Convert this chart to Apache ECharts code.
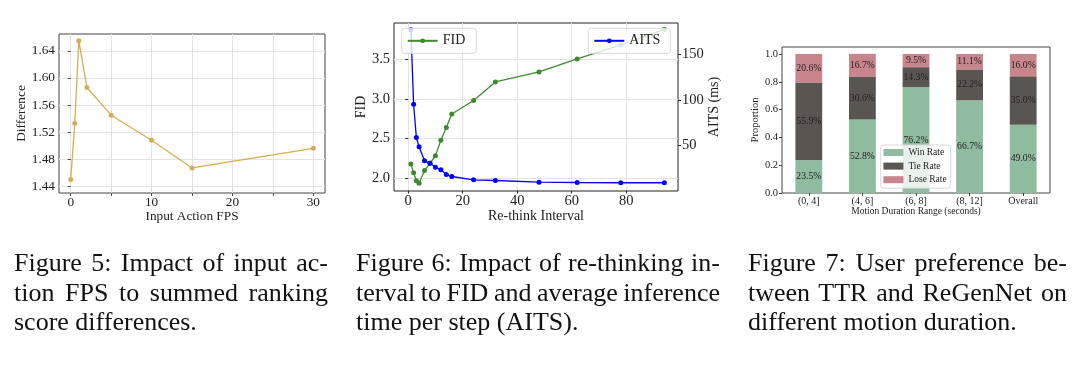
<!DOCTYPE html>
<html><head><meta charset="utf-8">
<script src="https://cdn.jsdelivr.net/npm/echarts@6/dist/echarts.min.js"></script>
<style>
html,body{margin:0;padding:0;background:#fff;width:1080px;height:367px;overflow:hidden;}
#chart{position:absolute;left:0;top:0;width:1080px;height:367px;}
.cap{position:absolute;font-family:'Liberation Serif','Times New Roman',serif;font-size:26px;line-height:29.5px;color:#111;}
.cap span{display:block;white-space:nowrap;}
.cap span.j{display:inline-block;}
</style></head>
<body>
<div id="chart"></div>
<div class="cap" style="left:14px;top:248px;width:314px">
<span class="j">Figure 5: Impact of input ac-</span><br>
<span class="j">tion FPS to summed ranking</span>
<span>score differences.</span>
</div>
<div class="cap" style="left:356px;top:248px;width:364px">
<span class="j">Figure 6: Impact of re-thinking in-</span><br>
<span class="j">terval to FID and average inference</span>
<span>time per step (AITS).</span>
</div>
<div class="cap" style="left:748px;top:248px;width:319px">
<span class="j">Figure 7: User preference be-</span><br>
<span class="j">tween TTR and ReGenNet on</span>
<span>different motion duration.</span>
</div>
<script>
// ---------- data ----------
const fpsX = [0, 0.5, 1, 2, 5, 10, 15, 30];
const fpsDiff = [1.450, 1.533, 1.655, 1.586, 1.545, 1.508, 1.467, 1.496];
const fpsTickLabels = [0, 10, 20, 30];
const fpsGridValues = [0, 5, 10, 15, 20, 25, 30];
const diffTicks = [1.44, 1.48, 1.52, 1.56, 1.60, 1.64];

const rethinkX = [1, 2, 3, 4, 6, 8, 10, 12, 14, 16, 24, 32, 48, 62, 78, 94];
const fidValues = [2.18, 2.07, 1.97, 1.94, 2.10, 2.19, 2.285, 2.48, 2.64, 2.81, 2.98, 3.215, 3.34, 3.504, 3.68, 3.877];
const aitsValues = [177.6, 95.2, 58.5, 48.2, 32.7, 30.1, 25.7, 22.8, 17.6, 15.4, 11.8, 11.0, 9.2, 8.8, 8.5, 8.5];
const rethinkTicks = [0, 20, 40, 60, 80];
const fidTicks = [2.0, 2.5, 3.0, 3.5];
const aitsTicks = [50, 100, 150];

const durationCats = ['(0, 4]', '(4, 6]', '(6, 8]', '(8, 12]', 'Overall'];
const winRate = [23.5, 52.8, 76.2, 66.7, 49.0];
const tieRate = [55.9, 30.6, 14.3, 22.2, 35.0];
const loseRate = [20.6, 16.7, 9.5, 11.1, 16.0];
const propTicks = [0, 0.2, 0.4, 0.6, 0.8, 1.0];

// ---------- caption justification ----------
document.querySelectorAll('.cap').forEach(cap => {
  const W = parseFloat(cap.style.width);
  cap.querySelectorAll('span.j').forEach(s => {
    const n = (s.textContent.match(/ /g) || []).length;
    const w = s.getBoundingClientRect().width;
    if (n > 0) s.style.wordSpacing = ((W - w) / n) + 'px';
  });
});

// ---------- chart ----------
const serif = "'Liberation Serif', 'Times New Roman', serif";
const pct = v => (v * 100).toFixed(1) + '%';
const txt = (size) => ({ fontFamily: serif, fontSize: size, color: '#222' });
const gridLine = { show: true, lineStyle: { color: '#e3e3e3', width: 1 } };

const chart = echarts.init(document.getElementById('chart'));
chart.setOption({
  animation: false,
  textStyle: { fontFamily: serif, color: '#222' },
  grid: [
    { left: 59, top: 34, width: 266, height: 159, show: true, borderColor: '#444', borderWidth: 1 },
    { left: 394, top: 23, width: 284, height: 168, show: true, borderColor: '#222', borderWidth: 1 },
    { left: 782, top: 47, width: 268, height: 146, show: true, borderColor: '#444', borderWidth: 1 }
  ],
  legend: [
    { data: ['FID'], left: 401.7, top: 28.3, orient: 'horizontal', itemWidth: 30, itemHeight: 6,
      padding: [5, 11, 5, 5], backgroundColor: 'rgba(255,255,255,0.8)', borderColor: '#d8d8d8',
      borderWidth: 1, borderRadius: 3, textStyle: Object.assign(txt(14), { lineHeight: 15 }) },
    { data: ['AITS'], left: 588.3, top: 28.3, orient: 'horizontal', itemWidth: 30, itemHeight: 6,
      padding: [5, 10, 5, 5], backgroundColor: 'rgba(255,255,255,0.8)', borderColor: '#d8d8d8',
      borderWidth: 1, borderRadius: 3, textStyle: Object.assign(txt(14), { lineHeight: 15 }) },
    { data: ['Win Rate', 'Tie Rate', 'Lose Rate'], left: 880.7, top: 145, orient: 'vertical',
      icon: 'rect', itemWidth: 20, itemHeight: 7, itemGap: 3.6,
      padding: [2.5, 4, 3.5, 2.7], backgroundColor: 'rgba(255,255,255,0.8)', borderColor: '#d8d8d8',
      borderWidth: 1, borderRadius: 3, textStyle: Object.assign(txt(9.5), { lineHeight: 10 }) }
  ],
  xAxis: [
    { type: 'value', gridIndex: 0, min: -1.45, max: 31.45,
      axisLine: { show: false },
      axisTick: { show: true, length: 3, lineStyle: { color: '#444' }, customValues: fpsGridValues },
      axisLabel: Object.assign(txt(13.3), { customValues: fpsTickLabels, margin: 3.5 }),
      splitLine: gridLine,
      name: 'Input Action FPS', nameLocation: 'middle', nameGap: 15.5, nameTextStyle: txt(13.3) },
    { type: 'value', gridIndex: 1, min: -5.2, max: 99,
      axisLine: { show: false },
      axisTick: { show: true, length: 3, lineStyle: { color: '#222' }, customValues: rethinkTicks },
      axisLabel: Object.assign(txt(14.5), { customValues: rethinkTicks, margin: 2.5 }),
      splitLine: gridLine,
      name: 'Re-think Interval', nameLocation: 'middle', nameGap: 16, nameTextStyle: txt(14) },
    { type: 'category', gridIndex: 2, data: durationCats,
      axisLine: { show: false },
      axisTick: { show: true, length: 3, alignWithLabel: true, lineStyle: { color: '#444' } },
      axisLabel: Object.assign(txt(10), { margin: 3 }),
      splitLine: { show: false },
      name: 'Motion Duration Range (seconds)', nameLocation: 'middle', nameGap: 12.5, nameTextStyle: txt(9.5) }
  ],
  yAxis: [
    { type: 'value', gridIndex: 0, min: 1.43, max: 1.665,
      axisLine: { show: false },
      axisTick: { show: true, length: 3, lineStyle: { color: '#444' }, customValues: diffTicks },
      axisLabel: Object.assign(txt(13.3), { customValues: diffTicks, margin: 4, formatter: v => v.toFixed(2) }),
      splitLine: gridLine,
      name: 'Difference', nameLocation: 'middle', nameRotate: 90, nameGap: 30, nameTextStyle: txt(13.3) },
    { type: 'value', gridIndex: 1, min: 1.841, max: 3.957,
      axisLine: { show: false },
      axisTick: { show: true, length: 3, lineStyle: { color: '#222' }, customValues: fidTicks },
      axisLabel: Object.assign(txt(14.5), { customValues: fidTicks, margin: 4, formatter: v => v.toFixed(1) }),
      splitLine: gridLine,
      name: 'FID', nameLocation: 'middle', nameRotate: 90, nameGap: 24, nameTextStyle: txt(14) },
    { type: 'value', gridIndex: 1, position: 'right', min: -0.6, max: 185,
      axisLine: { show: false },
      axisTick: { show: true, length: 3, lineStyle: { color: '#222' }, customValues: aitsTicks },
      axisLabel: Object.assign(txt(14.5), { customValues: aitsTicks, margin: 4 }),
      splitLine: { show: false },
      name: 'AITS (ms)', nameLocation: 'middle', nameRotate: 90, nameGap: 27, nameTextStyle: txt(14) },
    { type: 'value', gridIndex: 2, min: 0, max: 1.05,
      axisLine: { show: false },
      axisTick: { show: true, length: 3, lineStyle: { color: '#444' }, customValues: propTicks },
      axisLabel: Object.assign(txt(10.5), { customValues: propTicks, margin: 4, formatter: v => v.toFixed(1) }),
      splitLine: { show: false },
      name: 'Proportion', nameLocation: 'middle', nameRotate: 90, nameGap: 16, nameTextStyle: txt(10.5) }
  ],
  series: [
    { name: 'Difference', type: 'line', xAxisIndex: 0, yAxisIndex: 0,
      data: fpsX.map((x, i) => [x, fpsDiff[i]]),
      symbol: 'circle', symbolSize: 5, color: '#d6ad52',
      lineStyle: { width: 1.3, color: '#d6ad52' }, itemStyle: { color: '#d6ad52' } },
    { name: 'FID', type: 'line', xAxisIndex: 1, yAxisIndex: 1,
      data: rethinkX.map((x, i) => [x, fidValues[i]]),
      symbol: 'circle', symbolSize: 5, color: '#3c8c2e',
      lineStyle: { width: 1.3, color: '#3c8c2e' }, itemStyle: { color: '#3c8c2e' } },
    { name: 'AITS', type: 'line', xAxisIndex: 1, yAxisIndex: 2,
      data: rethinkX.map((x, i) => [x, aitsValues[i]]),
      symbol: 'circle', symbolSize: 5, color: '#0000ff',
      lineStyle: { width: 1.3, color: '#0000ff' }, itemStyle: { color: '#0000ff' } },
    { name: 'Win Rate', type: 'bar', stack: 'pref', xAxisIndex: 2, yAxisIndex: 3, barWidth: '50%',
      data: winRate.map(v => v / 100), itemStyle: { color: '#8fbb9f' },
      label: { show: true, position: 'inside', formatter: p => pct(p.value), fontFamily: serif, fontSize: 9.7, color: '#222' } },
    { name: 'Tie Rate', type: 'bar', stack: 'pref', xAxisIndex: 2, yAxisIndex: 3, barWidth: '50%',
      data: tieRate.map(v => v / 100), itemStyle: { color: '#5a5550' },
      label: { show: true, position: 'inside', formatter: p => pct(p.value), fontFamily: serif, fontSize: 9.7, color: '#222' } },
    { name: 'Lose Rate', type: 'bar', stack: 'pref', xAxisIndex: 2, yAxisIndex: 3, barWidth: '50%',
      data: loseRate.map(v => v / 100), itemStyle: { color: '#c8858b' },
      label: { show: true, position: 'inside', formatter: p => pct(p.value), fontFamily: serif, fontSize: 9.7, color: '#222' } }
  ]
});
</script>
</body></html>
